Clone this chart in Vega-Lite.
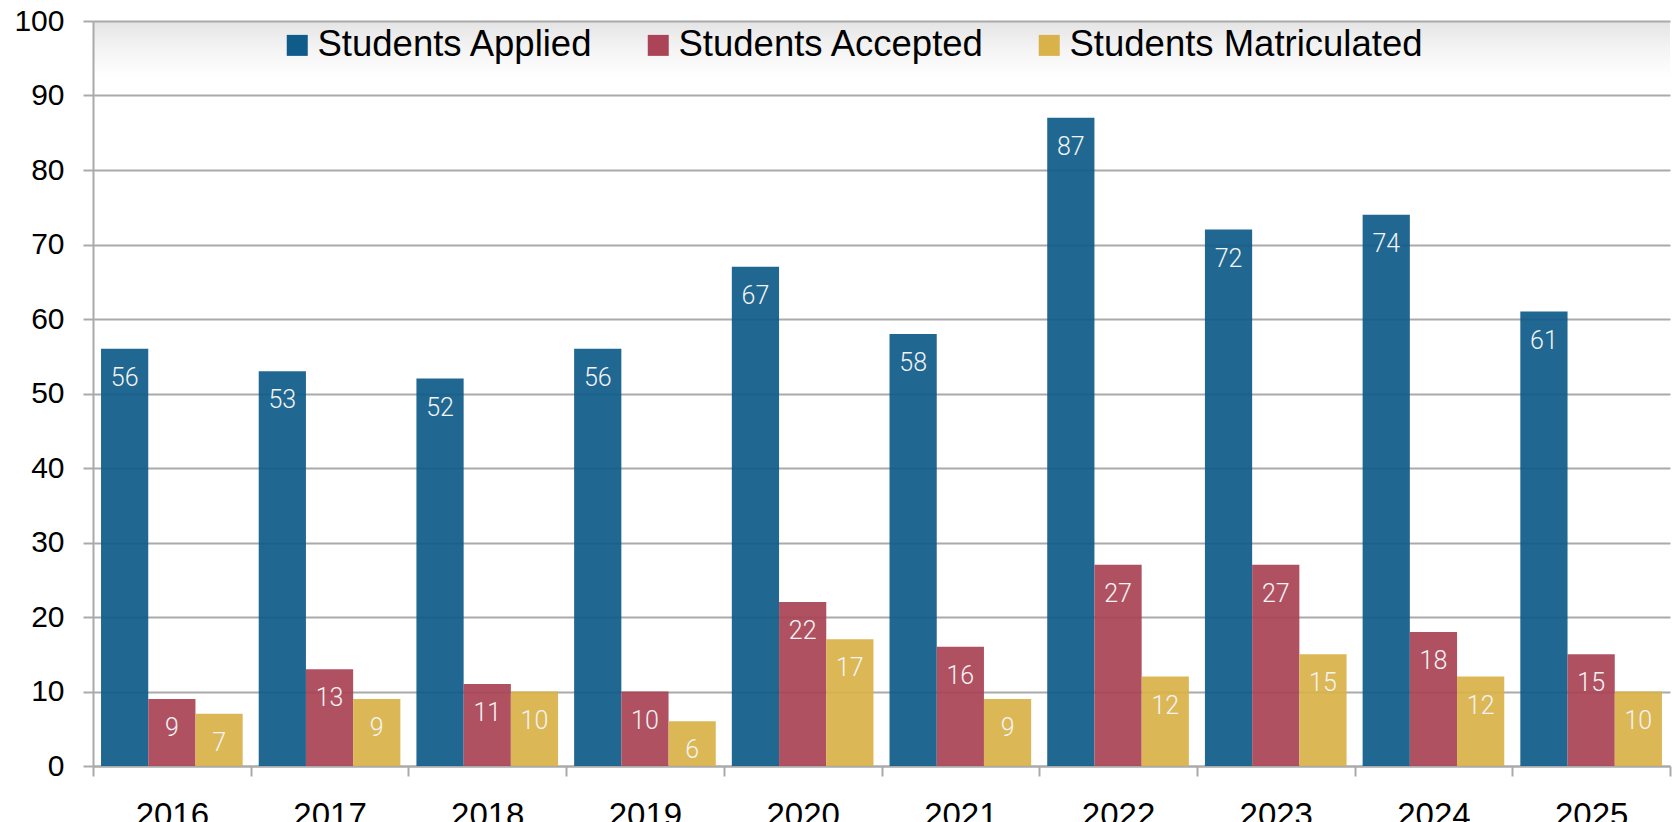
{
  "$schema": "https://vega.github.io/schema/vega-lite/v6.json",
  "width": 1577,
  "height": 745,
  "autosize": {"type": "none"},
  "padding": {"left": 93, "top": 21, "right": 5, "bottom": 56},
  "background": "#ffffff",
  "config": {
    "font": "Liberation Sans",
    "view": {
      "stroke": null,
      "fill": {
        "gradient": "linear", "x1": 0, "y1": 0, "x2": 0, "y2": 1,
        "stops": [
          {"offset": 0, "color": "#e4e4e4"},
          {"offset": 0.035, "color": "#f3f3f3"},
          {"offset": 0.075, "color": "#ffffff"},
          {"offset": 1, "color": "#ffffff"}
        ]
      }
    }
  },
  "data": {
    "values": [
      {"year": "2016", "series": "Students Applied", "value": 56},
      {"year": "2016", "series": "Students Accepted", "value": 9},
      {"year": "2016", "series": "Students Matriculated", "value": 7},
      {"year": "2017", "series": "Students Applied", "value": 53},
      {"year": "2017", "series": "Students Accepted", "value": 13},
      {"year": "2017", "series": "Students Matriculated", "value": 9},
      {"year": "2018", "series": "Students Applied", "value": 52},
      {"year": "2018", "series": "Students Accepted", "value": 11},
      {"year": "2018", "series": "Students Matriculated", "value": 10},
      {"year": "2019", "series": "Students Applied", "value": 56},
      {"year": "2019", "series": "Students Accepted", "value": 10},
      {"year": "2019", "series": "Students Matriculated", "value": 6},
      {"year": "2020", "series": "Students Applied", "value": 67},
      {"year": "2020", "series": "Students Accepted", "value": 22},
      {"year": "2020", "series": "Students Matriculated", "value": 17},
      {"year": "2021", "series": "Students Applied", "value": 58},
      {"year": "2021", "series": "Students Accepted", "value": 16},
      {"year": "2021", "series": "Students Matriculated", "value": 9},
      {"year": "2022", "series": "Students Applied", "value": 87},
      {"year": "2022", "series": "Students Accepted", "value": 27},
      {"year": "2022", "series": "Students Matriculated", "value": 12},
      {"year": "2023", "series": "Students Applied", "value": 72},
      {"year": "2023", "series": "Students Accepted", "value": 27},
      {"year": "2023", "series": "Students Matriculated", "value": 15},
      {"year": "2024", "series": "Students Applied", "value": 74},
      {"year": "2024", "series": "Students Accepted", "value": 18},
      {"year": "2024", "series": "Students Matriculated", "value": 12},
      {"year": "2025", "series": "Students Applied", "value": 61},
      {"year": "2025", "series": "Students Accepted", "value": 15},
      {"year": "2025", "series": "Students Matriculated", "value": 10}
    ]
  },
  "encoding": {
    "x": {
      "field": "year", "type": "nominal", "title": null,
      "scale": {"paddingInner": 0, "paddingOuter": 0},
      "axis": {
        "labelAngle": 0, "labelFontSize": 33, "labelColor": "#000000",
        "labelPadding": 23, "tickBand": "extent", "tickSize": 10,
        "tickColor": "#aaaaaa", "tickWidth": 2,
        "domainColor": "#aaaaaa", "domainWidth": 2, "grid": false
      }
    },
    "xOffset": {
      "field": "series", "type": "nominal",
      "sort": ["Students Applied", "Students Accepted", "Students Matriculated"],
      "scale": {"paddingInner": 0, "paddingOuter": 0.17}
    },
    "y": {
      "field": "value", "type": "quantitative", "title": null,
      "scale": {"domain": [0, 100], "nice": false},
      "axis": {
        "values": [0, 10, 20, 30, 40, 50, 60, 70, 80, 90, 100],
        "labelFontSize": 30, "labelColor": "#000000", "labelPadding": 19,
        "tickSize": 10, "tickColor": "#aaaaaa", "tickWidth": 2,
        "domainColor": "#aaaaaa", "domainWidth": 2,
        "gridColor": "#aaaaaa", "gridWidth": 2
      }
    }
  },
  "layer": [
    {
      "mark": {"type": "bar", "opacity": 0.93},
      "encoding": {
        "color": {
          "field": "series", "type": "nominal",
          "scale": {
            "domain": ["Students Applied", "Students Accepted", "Students Matriculated"],
            "range": ["#0f5b8a", "#aa4456", "#d9b249"]
          },
          "legend": {
            "title": null, "orient": "none", "direction": "horizontal",
            "legendX": 186, "legendY": 6,
            "symbolType": "square", "symbolSize": 441, "symbolStrokeWidth": 0,
            "symbolOpacity": 1,
            "labelFontSize": 36.5, "labelColor": "#000000", "labelOffset": 2,
            "columnPadding": 46, "labelLimit": 600
          }
        }
      }
    },
    {
      "mark": {
        "type": "text", "color": "#f4f4f4", "baseline": "middle",
        "dy": 29, "fontSize": 25, "font": "Roboto", "fontWeight": 300
      },
      "encoding": {
        "text": {"field": "value", "type": "quantitative"}
      }
    }
  ]
}
